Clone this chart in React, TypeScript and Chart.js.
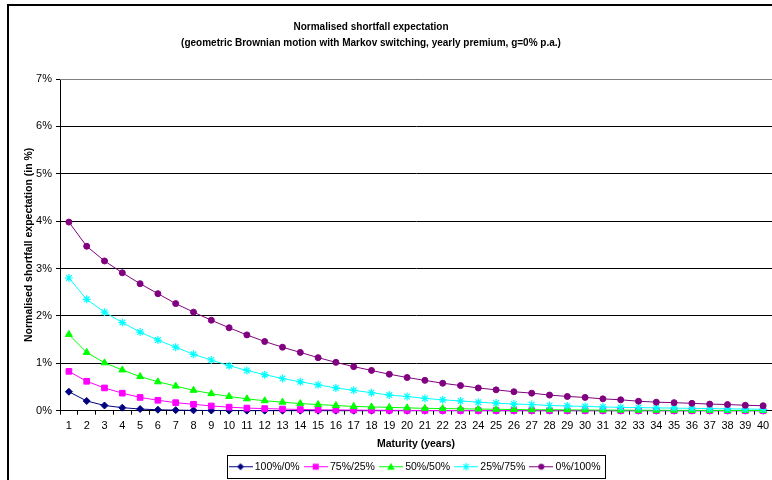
import React, { useEffect, useRef } from "react";
import { Chart, registerables } from "chart.js";

Chart.register(...registerables);

const titleLines = [
  "Normalised shortfall expectation",
  "(geometric Brownian motion with Markov switching, yearly premium, g=0% p.a.)",
];
const xTitle = "Maturity (years)";
const yTitle = "Normalised shortfall expectation (in %)";

const maturities = [
  "1", "2", "3", "4", "5", "6", "7", "8", "9", "10",
  "11", "12", "13", "14", "15", "16", "17", "18", "19", "20",
  "21", "22", "23", "24", "25", "26", "27", "28", "29", "30",
  "31", "32", "33", "34", "35", "36", "37", "38", "39", "40",
];

const seriesNames = ["100%/0%", "75%/25%", "50%/50%", "25%/75%", "0%/100%"];

const s100_0 = [
  0.40, 0.205, 0.11, 0.064, 0.035, 0.02, 0.012, 0.007, 0.004, 0.002,
  0.001, 0.001, 0.001, 0, 0, 0, 0, 0, 0, 0,
  0, 0, 0, 0, 0, 0, 0, 0, 0, 0,
  0, 0, 0, 0, 0, 0, 0, 0, 0, 0,
];
const s75_25 = [
  0.83, 0.62, 0.48, 0.37, 0.28, 0.22, 0.17, 0.135, 0.10, 0.075,
  0.055, 0.045, 0.035, 0.025, 0.02, 0.016, 0.013, 0.01, 0.008, 0.006,
  0.005, 0.004, 0.003, 0.003, 0.002, 0.002, 0.002, 0.001, 0.001, 0.001,
  0.001, 0.001, 0.001, 0, 0, 0, 0, 0, 0, 0,
];
const s50_50 = [
  1.61, 1.23, 1.01, 0.86, 0.72, 0.61, 0.52, 0.43, 0.36, 0.30,
  0.25, 0.21, 0.18, 0.15, 0.13, 0.11, 0.09, 0.08, 0.07, 0.06,
  0.05, 0.045, 0.04, 0.035, 0.03, 0.025, 0.02, 0.02, 0.017, 0.015,
  0.013, 0.011, 0.01, 0.009, 0.008, 0.007, 0.006, 0.005, 0.005, 0.004,
];
const s25_75 = [
  2.80, 2.35, 2.08, 1.86, 1.66, 1.49, 1.34, 1.19, 1.07, 0.95,
  0.85, 0.76, 0.68, 0.61, 0.545, 0.48, 0.43, 0.38, 0.33, 0.30,
  0.26, 0.23, 0.205, 0.18, 0.16, 0.14, 0.13, 0.11, 0.10, 0.09,
  0.08, 0.07, 0.065, 0.06, 0.055, 0.05, 0.045, 0.04, 0.035, 0.03,
];
const s0_100 = [
  3.98, 3.47, 3.16, 2.91, 2.68, 2.47, 2.26, 2.08, 1.91, 1.75,
  1.60, 1.46, 1.34, 1.23, 1.12, 1.02, 0.93, 0.85, 0.77, 0.70,
  0.64, 0.58, 0.53, 0.48, 0.44, 0.40, 0.37, 0.33, 0.30, 0.28,
  0.25, 0.23, 0.20, 0.18, 0.17, 0.155, 0.14, 0.13, 0.115, 0.105,
];

const seriesValues = [s100_0, s75_25, s50_50, s25_75, s0_100];
const seriesColors = ["#000080", "#FF00FF", "#00FF00", "#00FFFF", "#800080"];
const seriesMarkers = ["rectRot", "rect", "triangle", "star", "circle"];
const markerRadius = [3.5, 4, 4, 4, 3];

const FONT = "'Liberation Sans', Arial, Helvetica, sans-serif";

function makeLegendImage(color: string, style: string): HTMLCanvasElement {
  const c = document.createElement("canvas");
  c.width = 24;
  c.height = 11;
  const ctx = c.getContext("2d")!;
  const cx = 12;
  const cy = 5.5;
  ctx.strokeStyle = color;
  ctx.fillStyle = color;
  ctx.lineWidth = 1;
  ctx.beginPath();
  ctx.moveTo(0, cy);
  ctx.lineTo(24, cy);
  ctx.stroke();
  ctx.beginPath();
  if (style === "rectRot") {
    const r = 3.5;
    ctx.moveTo(cx, cy - r);
    ctx.lineTo(cx + r, cy);
    ctx.lineTo(cx, cy + r);
    ctx.lineTo(cx - r, cy);
    ctx.closePath();
    ctx.fill();
  } else if (style === "rect") {
    ctx.rect(cx - 3, cy - 3, 6, 6);
    ctx.fill();
  } else if (style === "triangle") {
    ctx.moveTo(cx, cy - 4);
    ctx.lineTo(cx + 3.8, cy + 3);
    ctx.lineTo(cx - 3.8, cy + 3);
    ctx.closePath();
    ctx.fill();
  } else if (style === "star") {
    const r = 3.8;
    ctx.lineWidth = 1.2;
    ctx.moveTo(cx - r, cy);
    ctx.lineTo(cx + r, cy);
    ctx.moveTo(cx, cy - r);
    ctx.lineTo(cx, cy + r);
    const d = r * Math.SQRT1_2;
    ctx.moveTo(cx - d, cy - d);
    ctx.lineTo(cx + d, cy + d);
    ctx.moveTo(cx - d, cy + d);
    ctx.lineTo(cx + d, cy - d);
    ctx.stroke();
  } else {
    ctx.arc(cx, cy, 3, 0, Math.PI * 2);
    ctx.fill();
  }
  return c;
}

// Place title and legend horizontally where the reference has them
const boxPlacementPlugin = {
  id: "boxPlacement",
  afterLayout(chart: any) {
    const t = chart.titleBlock;
    if (t) {
      t.left = 0;
      t.right = 724;
    }
    const lg = chart.legend;
    if (lg) {
      lg.left = 51;
      lg.right = 763;
    }
  },
};

const plotBorderPlugin = {
  id: "plotBorder",
  beforeDatasetsDraw(chart: any) {
    const { ctx, chartArea } = chart;
    ctx.save();
    ctx.strokeStyle = "#808080";
    ctx.lineWidth = 1;
    ctx.beginPath();
    const top = Math.round(chartArea.top) + 0.5;
    const right = Math.round(chartArea.right) + 0.5;
    ctx.moveTo(Math.round(chartArea.left), top);
    ctx.lineTo(right, top);
    ctx.lineTo(right, Math.round(chartArea.bottom));
    ctx.stroke();
    ctx.restore();
  },
};

const legendBoxPlugin = {
  id: "legendBox",
  afterDraw(chart: any) {
    const lg = chart.legend;
    if (!lg || !lg.legendHitBoxes || !lg.legendHitBoxes.length) return;
    const boxes = lg.legendHitBoxes;
    let minX = Infinity;
    let maxX = -Infinity;
    let minY = Infinity;
    let maxY = -Infinity;
    boxes.forEach((b: any) => {
      minX = Math.min(minX, b.left);
      maxX = Math.max(maxX, b.left + b.width);
      minY = Math.min(minY, b.top);
      maxY = Math.max(maxY, b.top + b.height);
    });
    const ctx = chart.ctx;
    ctx.save();
    ctx.strokeStyle = "#000";
    ctx.lineWidth = 1;
    const x0 = Math.round(minX - 5) + 0.5;
    const x1 = Math.round(maxX + 5) + 0.5;
    const y0 = Math.round(minY - 7) + 0.5;
    const y1 = Math.round(maxY + 6) + 0.5;
    ctx.strokeRect(x0, y0, x1 - x0, y1 - y0);
    ctx.restore();
  },
};

export default function App() {
  const canvasRef = useRef<HTMLCanvasElement | null>(null);

  useEffect(() => {
    if (!canvasRef.current) return;
    Chart.defaults.font.family = FONT;
    Chart.defaults.color = "#000";

    const legendImages = seriesColors.map((c, i) => makeLegendImage(c, seriesMarkers[i]));

    const datasets = seriesNames.map((name, i) => ({
      label: name,
      data: seriesValues[i],
      borderColor: seriesColors[i],
      backgroundColor: seriesColors[i],
      borderWidth: 1,
      pointStyle: seriesMarkers[i],
      pointRadius: markerRadius[i],
      pointBorderWidth: seriesMarkers[i] === "star" ? 1.2 : 1,
      pointBorderColor: seriesColors[i],
      pointBackgroundColor: seriesColors[i],
      tension: 0,
      clip: false as any,
      order: 5 - i,
    }));

    const chart = new Chart(canvasRef.current, {
      type: "line",
      data: { labels: maturities, datasets },
      options: {
        animation: false,
        responsive: false,
        maintainAspectRatio: false,
        layout: { padding: { left: 14, right: 12, top: 0, bottom: 4 } },
        scales: {
          x: {
            offset: true,
            grid: {
              offset: true,
              drawOnChartArea: false,
              drawTicks: true,
              tickLength: 4,
              color: "#000",
            },
            border: { display: true, color: "#000", width: 1 },
            ticks: {
              autoSkip: false,
              maxRotation: 0,
              padding: 5,
              font: { size: 11 },
              color: "#000",
            },
            title: {
              display: true,
              text: xTitle,
              font: { size: 10.5, weight: "bold" },
              color: "#000",
              padding: { top: 0, bottom: 4 },
            },
          },
          y: {
            min: 0,
            max: 7,
            afterFit: (scale: any) => {
              scale.width = 37;
            },
            grid: {
              color: "#000",
              tickLength: 4,
              drawTicks: true,
            },
            border: { display: true, color: "#000", width: 1 },
            ticks: {
              stepSize: 1,
              padding: 4,
              font: { size: 11 },
              color: "#000",
              callback: (v: any) => v + "%",
            },
            title: {
              display: true,
              text: yTitle,
              font: { size: 10.5, weight: "bold" },
              color: "#000",
              padding: { top: 0, bottom: 0 },
            },
          },
        },
        plugins: {
          title: {
            display: true,
            text: titleLines,
            font: { size: 10, weight: "bold", lineHeight: 1.6 },
            color: "#000",
            padding: { top: 13, bottom: 28 },
          },
          legend: {
            display: true,
            position: "bottom",
            labels: {
              usePointStyle: true,
              pointStyleWidth: 18,
              boxHeight: 10,
              padding: 7,
              font: { size: 10.5 },
              color: "#000",
              generateLabels: () =>
                seriesNames.map((name, i) => ({
                  text: name,
                  fillStyle: seriesColors[i],
                  strokeStyle: seriesColors[i],
                  lineWidth: 0,
                  pointStyle: legendImages[i] as any,
                  hidden: false,
                  datasetIndex: i,
                  fontColor: "#000",
                })),
            },
          },
          tooltip: { enabled: false },
        },
      },
      plugins: [boxPlacementPlugin, plotBorderPlugin, legendBoxPlugin],
    });

    return () => chart.destroy();
  }, []);

  return (
    <div
      style={{
        position: "fixed",
        left: 0,
        top: 0,
        width: 772,
        height: 480,
        overflow: "hidden",
        background: "#fff",
      }}
    >
      <div
        style={{
          position: "absolute",
          left: 7,
          top: 4,
          width: 790,
          height: 500,
          border: "2px solid #000",
          background: "#fff",
        }}
      >
        <canvas
          ref={canvasRef}
          width={775}
          height={480}
          style={{ display: "block", width: 775, height: 480 }}
        />
      </div>
    </div>
  );
}
